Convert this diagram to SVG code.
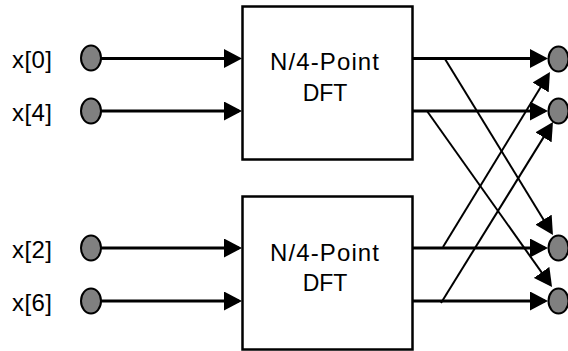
<svg xmlns="http://www.w3.org/2000/svg" width="568" height="351" viewBox="0 0 568 351">
<defs>
<style>
.lbl{font-family:"Liberation Sans",Arial,sans-serif;font-size:24px;fill:#000}
.dft{font-size:23px}
.box{fill:#fff;stroke:#000;stroke-width:2.5}
.node{fill:#808080;stroke:#000;stroke-width:2}
.h{stroke:#000;stroke-width:3;fill:none;marker-end:url(#ah)}
.d{stroke:#000;stroke-width:2;fill:none;marker-end:url(#ah)}
</style>
<marker id="ah" markerUnits="userSpaceOnUse" markerWidth="19" markerHeight="19" refX="15" refY="9.5" orient="auto">
<path d="M0,0 L18,9.5 L0,19 Z" fill="#000"/>
</marker>
</defs>
<g id="dft1">
<rect class="box" x="242.5" y="6.5" width="170" height="153"/>
<text class="lbl" x="324.5" y="70" text-anchor="middle" textLength="109" lengthAdjust="spacing">N/4-Point</text>
<text class="lbl dft" x="325" y="100.5" text-anchor="middle">DFT</text>
</g>
<g id="dft2">
<rect class="box" x="242.5" y="196.5" width="170" height="153"/>
<text class="lbl" x="324.5" y="261" text-anchor="middle" textLength="109" lengthAdjust="spacing">N/4-Point</text>
<text class="lbl dft" x="325" y="291" text-anchor="middle">DFT</text>
</g>
<g id="connectors">
<line class="h" x1="101" y1="58.5" x2="239" y2="58.5"/>
<line class="h" x1="101" y1="111" x2="239" y2="111"/>
<line class="h" x1="101" y1="248" x2="239" y2="248"/>
<line class="h" x1="101" y1="301" x2="239" y2="301"/>
<line class="h" x1="412" y1="58.5" x2="545" y2="58.5"/>
<line class="h" x1="412" y1="111" x2="545" y2="111"/>
<line class="h" x1="412" y1="248" x2="545" y2="248"/>
<line class="h" x1="412" y1="301" x2="545" y2="301"/>
<line class="d" x1="445" y1="59" x2="551.4" y2="232.4"/>
<line class="d" x1="427" y1="111" x2="550.3" y2="284.6"/>
<line class="d" x1="443" y1="247" x2="548.4" y2="74.6"/>
<line class="d" x1="441" y1="303" x2="551.4" y2="124.6"/>
</g>
<g id="in0"><ellipse class="node" cx="91" cy="58" rx="10" ry="12.5"/><text class="lbl" x="12" y="67.5" textLength="40" lengthAdjust="spacing">x[0]</text></g>
<g id="in4"><ellipse class="node" cx="91" cy="111" rx="10" ry="12.5"/><text class="lbl" x="12" y="120.5" textLength="40" lengthAdjust="spacing">x[4]</text></g>
<g id="in2"><ellipse class="node" cx="91" cy="248" rx="10" ry="12.5"/><text class="lbl" x="12" y="257.5" textLength="40" lengthAdjust="spacing">x[2]</text></g>
<g id="in6"><ellipse class="node" cx="91" cy="301" rx="10" ry="12.5"/><text class="lbl" x="12" y="310.5" textLength="40" lengthAdjust="spacing">x[6]</text></g>
<g id="out0"><ellipse class="node" cx="558.5" cy="59" rx="10" ry="12.5"/></g>
<g id="out1"><ellipse class="node" cx="558.5" cy="111" rx="10" ry="12.5"/></g>
<g id="out2"><ellipse class="node" cx="558.5" cy="248" rx="10" ry="12.5"/></g>
<g id="out3"><ellipse class="node" cx="558.5" cy="301" rx="10" ry="12.5"/></g>
</svg>
